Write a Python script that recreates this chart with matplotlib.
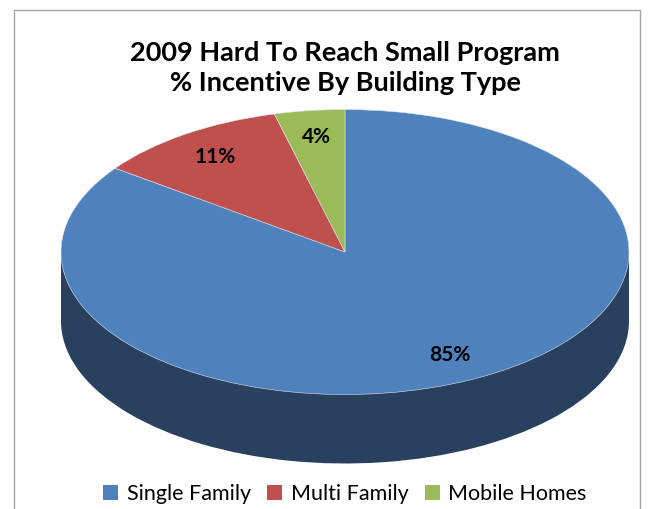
import matplotlib
matplotlib.use('Agg')
import matplotlib.pyplot as plt
from matplotlib.patches import Rectangle

plt.rcParams['font.family'] = ['Lato', 'DejaVu Sans']

categories = ['Single Family', 'Multi Family', 'Mobile Homes']
values = [85, 11, 4]
colors = ['#4F81BD', '#C0504D', '#9BBB59']
side_color = '#29415F'
title = '2009 Hard To Reach Small Program\n% Incentive By Building Type'

W, H = 649, 509
fig = plt.figure(figsize=(W / 100, H / 100), dpi=100)
# axes in pixels of the image, pie is then squashed by the limits
ax = fig.add_axes([0, 0, 1, 1])

depth = 69 / 142.5

# side of the disc first, top goes over it
ax.pie(values, colors=[side_color] * 3, center=(0, -depth), startangle=90,
       counterclock=False, frame=False)
ax.add_patch(Rectangle((-1, -depth), 2, depth, color=side_color, lw=0))

wedges, _, pct = ax.pie(values, colors=colors, startangle=90, counterclock=False,
                        autopct='%.0f%%', pctdistance=0.81, frame=False,
                        wedgeprops={'edgecolor': '#DCE6F1', 'linewidth': 0.4})
for t in pct:
    t.set_fontsize(15)
    t.set_fontweight('bold')
    t.set_color('black')

ax.set_aspect('auto')
ax.set_xlim(-345 / 284, (W - 345) / 284)
ax.set_ylim(-(H - 252) / 142.5, 252 / 142.5)
ax.axis('off')

fig.text(345 / W, 1 - 68 / H, title, ha='center', va='center', fontsize=19.5,
         fontweight='bold', linespacing=1.3, color='black')

leg = fig.legend(wedges, categories, loc='lower center', bbox_to_anchor=(345 / W, -0.012),
                 ncol=3, frameon=False, fontsize=15.5, handlelength=0.7, handleheight=0.7,
                 handletextpad=0.4, columnspacing=0.75, borderpad=0)
for h in leg.get_patches():
    h.set_edgecolor('none')

# chart frame
fig.add_artist(plt.Line2D([14 / W, 14 / W, 640 / W, 640 / W],
                          [0, 1 - 10 / H, 1 - 10 / H, 0], color='#A6A6A6', lw=1))

fig.savefig('out.png', dpi=100)
